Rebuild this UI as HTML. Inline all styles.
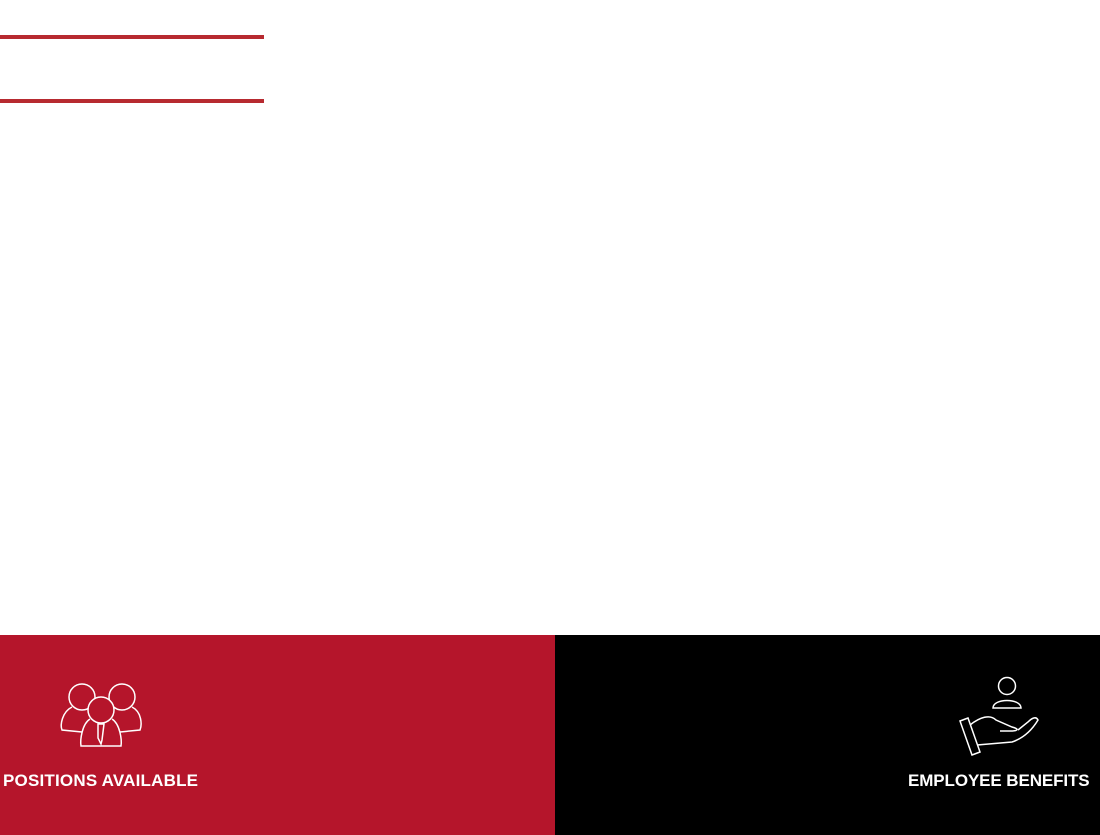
<!DOCTYPE html>
<html><head><style>
body{margin:0;width:1100px;height:835px;background:#fff;position:relative;overflow:hidden;font-family:"Liberation Sans",sans-serif}
.l{position:absolute;left:0;width:264px;height:4px;background:#b72a30}
.red{position:absolute;left:0;top:635px;width:555px;height:200px;background:#b5152b}
.blk{position:absolute;left:555px;top:635px;width:545px;height:200px;background:#000}
.t{position:absolute;color:#fff;font-weight:bold;font-size:17px;white-space:nowrap;top:771px}
</style></head><body>
<div class="l" style="top:35px"></div>
<div class="l" style="top:99px"></div>
<div class="red"></div>
<div class="blk"></div>
<svg style="position:absolute;left:0;top:0" width="1100" height="835" fill="none" stroke="#fff" stroke-width="1.5">
<circle cx="82" cy="697" r="13"/>
<circle cx="122" cy="697" r="13"/>
<path d="M72 707 C62 712 60 725 62 730 L82 732"/>
<path d="M132 707 C142 712 142 725 140 730 L120 732"/>
<path d="M90 719 C82 724 80 740 81 746 L121 746 C122 740 120 724 112 719" fill="#b5152b"/>
<circle cx="101" cy="710" r="13" fill="#b5152b"/>
<path d="M98 724 L104 724 L102 740 L101 744 L98 738 Z"/>
<circle cx="1007" cy="686" r="8.5"/>
<path d="M993 708 C993 698 1021 698 1021 708 Z"/>
<path d="M960 721 L968 718 L980 752 L972 755 Z"/>
<path d="M970 725 C980 717 990 714 996 720 L1012 727 C1020 729 1018 731 1010 731 L1000 731"/>
<path d="M977 745 L1012 742 C1024 738 1032 730 1038 720 C1036 716 1032 718 1028 722 L1018 730"/>
</svg>
<div class="t" style="left:3px;letter-spacing:0.2px">POSITIONS AVAILABLE</div>
<div class="t" style="left:908px;letter-spacing:-0.1px">EMPLOYEE BENEFITS</div>
</body></html>
